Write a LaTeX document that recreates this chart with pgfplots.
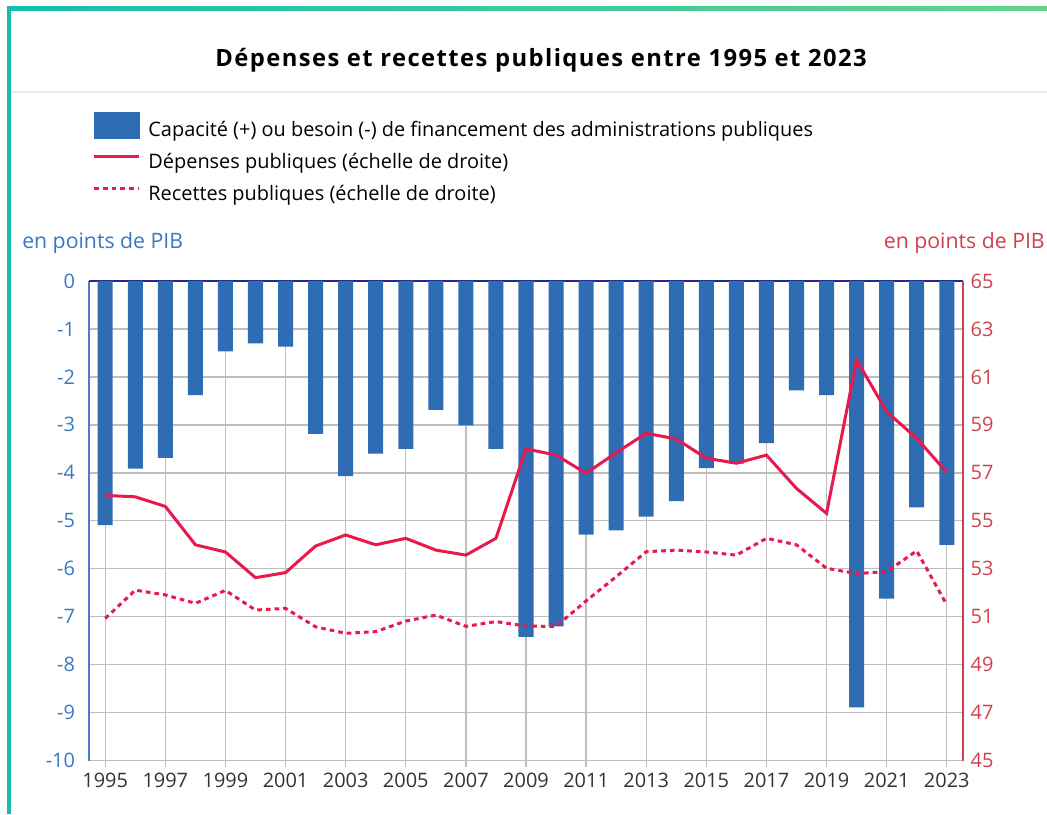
\documentclass[border=0pt]{standalone}
\usepackage{pgfplots}
\pgfplotsset{compat=1.18}
\usepackage{fontspec}
\setmainfont{Open Sans}
\newfontfamily\titlefont[LetterSpace=6]{Open Sans}
\definecolor{barblue}{HTML}{2E6DB4}
\definecolor{lblblue}{HTML}{3A78C2}
\definecolor{axblue}{HTML}{4A7CC9}
\definecolor{zeronavy}{HTML}{1F2A8A}
\definecolor{linered}{HTML}{E8194B}
\definecolor{axred}{HTML}{D2404E}
\definecolor{gridgray}{HTML}{BEBEBE}
\definecolor{tealA}{HTML}{17BDB0}
\definecolor{greenB}{HTML}{62D48A}
\definecolor{ticktext}{HTML}{333333}

\pgfplotsset{
  linelegend/.style={legend image code/.code={\path[draw=none,fill=none] (0bp,-4.4bp) rectangle (33.75bp,15.1bp); \draw[##1] (0bp,5.35bp) -- (33.75bp,5.35bp);}},
  barlegend/.style={legend image code/.code={\fill[barblue] (0bp,-4.4bp) rectangle (33.75bp,15.1bp);}},
}

\pgfplotstableread{
year cap dep rec
1995 -5.09 56.06 50.93
1996 -3.91 56.00 52.11
1997 -3.69 55.60 51.91
1998 -2.38 54.00 51.56
1999 -1.47 53.70 52.10
2000 -1.30 52.63 51.28
2001 -1.37 52.84 51.35
2002 -3.19 53.95 50.58
2003 -4.07 54.41 50.31
2004 -3.60 54.00 50.38
2005 -3.50 54.27 50.82
2006 -2.69 53.78 51.07
2007 -3.01 53.57 50.60
2008 -3.50 54.27 50.80
2009 -7.42 58.00 50.61
2010 -7.20 57.74 50.60
2011 -5.29 56.98 51.66
2012 -5.20 57.84 52.67
2013 -4.91 58.65 53.71
2014 -4.59 58.41 53.78
2015 -3.90 57.61 53.70
2016 -3.81 57.40 53.57
2017 -3.38 57.74 54.27
2018 -2.28 56.35 54.00
2019 -2.38 55.31 53.02
2020 -8.89 61.71 52.80
2021 -6.62 59.55 52.88
2022 -4.72 58.44 53.75
2023 -5.50 57.02 51.50
}\datatable

\begin{document}
\begin{tikzpicture}[x=0.75bp,y=-0.75bp]
\useasboundingbox (0,0) rectangle (1047,814);
\fill[white] (0,0) rectangle (1047,814);
\shade[left color=tealA, right color=greenB] (7,6) rectangle (1047,10);
\fill[tealA] (7,6) rectangle (11,814);
\draw[black!9, line width=1.2bp] (11,92) -- (1047,92);
\node[font=\titlefont\fontsize{17.9}{20}\selectfont\bfseries, anchor=base, inner sep=0pt] at (541,66) {Dépenses et recettes publiques entre 1995 et 2023};
\node[font=\fontsize{16}{18}\selectfont, text=lblblue, anchor=base west, inner sep=0pt] at (22,248) {en points de PIB};
\node[font=\fontsize{16}{18}\selectfont, text=axred, anchor=base east, inner sep=0pt] at (1045,248) {en points de PIB};

\begin{axis}[
  at={(66.75bp,-570.5bp)}, anchor=south west,
  width=655.7bp, height=359.8bp, scale only axis,
  xmin=1994.46, xmax=2023.55, ymin=-10, ymax=0,
  axis x line*=bottom, axis y line*=left,
  x axis line style={draw=gridgray, line width=1bp, -},
  y axis line style={draw=axblue, line width=1.5bp, -},
  xtick={1995,1997,...,2023},
  xticklabels={1995,1997,1999,2001,2003,2005,2007,2009,2011,2013,2015,2017,2019,2021,2023},
  ytick={-10,-9,...,-1},
  yticklabels={-10,-9,-8,-7,-6,-5,-4,-3,-2,-1},
  extra y ticks={0}, extra y tick labels={0},
  extra y tick style={grid style={draw=zeronavy, line width=1.5bp}},
  grid=major, grid style={draw=gridgray, line width=1bp},
  tick align=outside, major tick length=5bp,
  xtick style={draw=gridgray, line width=1bp},
  ytick style={draw=none},
  x tick label style={font=\fontsize{15}{17}\selectfont, text=ticktext, yshift=-1bp},
  y tick label style={font=\fontsize{15}{17}\selectfont, text=lblblue, xshift=-2bp},
]
\addplot[ybar, bar width=0.5, fill=barblue, draw=none] table[x=year, y=cap] {\datatable};
\end{axis}

\begin{axis}[
  at={(66.75bp,-570.5bp)}, anchor=south west,
  width=655.7bp, height=359.8bp, scale only axis,
  xmin=1994.46, xmax=2023.55, ymin=45, ymax=65,
  axis x line=none, axis y line*=right,
  y axis line style={draw=axred, line width=1.5bp, -},
  ytick={45,47,...,65},
  yticklabels={45,47,49,51,53,55,57,59,61,63,65},
  ytick style={draw=none},
  y tick label style={font=\fontsize{15}{17}\selectfont, text=axred, xshift=2bp},
  legend style={at={(0.0042,1.353)}, anchor=north west, draw=none, fill=none,
    font=\fontsize{15}{17}\selectfont, inner sep=0pt, row sep=2.25bp, column sep=5.6bp,
    nodes={inner sep=0pt, text height=10bp, text depth=3bp}},
  legend cell align=left,
]
\addlegendimage{barlegend}
\addlegendentry{Capacité (+) ou besoin (-) de financement des administrations publiques}
\addplot[linered, line width=2.25bp, linelegend] table[x=year, y=dep] {\datatable};
\addlegendentry{Dépenses publiques (échelle de droite)}
\addplot[linered, line width=2.25bp, dash pattern=on 3.5bp off 3bp, linelegend] table[x=year, y=rec] {\datatable};
\addlegendentry{Recettes publiques (échelle de droite)}
\end{axis}
\end{tikzpicture}
\end{document}
